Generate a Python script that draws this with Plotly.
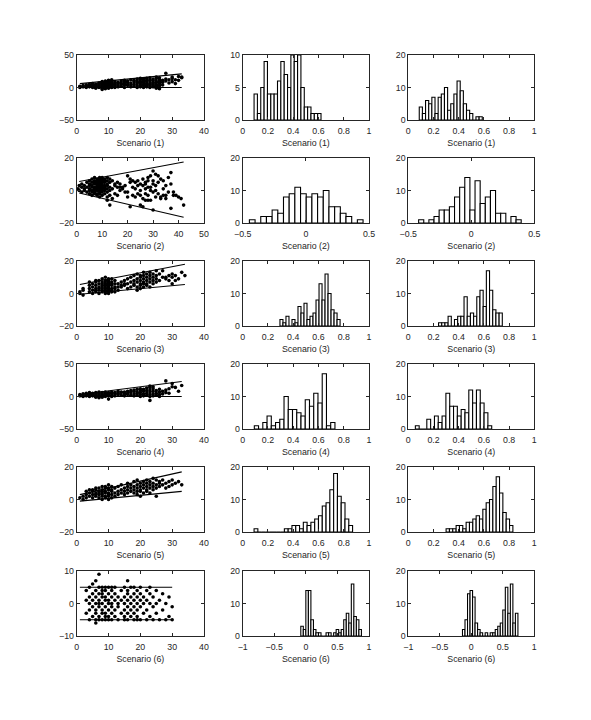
import plotly.graph_objects as go

# ---------------- scatter data (x -> list of y) ----------------
S1 = {1: [0, 1, 2], 2: [1, 3], 3: [0, 2, 4], 4: [1, 2, 3, 5], 5: [0, 2, 3, 4, 6],
      6: [-1, 1, 2, 4, 5], 7: [0, 1, 3, 4, 6, 7], 8: [-3, -1, 0, 2, 3, 5, 6, 8, 9],
      9: [-2, 0, 1, 3, 4, 6, 7, 9, 10], 10: [-1, 0, 2, 3, 5, 6, 8, 10, 11],
      11: [0, 1, 3, 4, 6, 7, 9, 12], 12: [0, 2, 4, 5, 7, 9], 13: [1, 3, 6, 8],
      14: [2, 5, 7, 10], 15: [0, 4, 6, 9, 11], 16: [3, 5, 8, 10], 17: [1, 4, 7, 12],
      18: [2, 5, 9, 11], 19: [0, 3, 6, 8, 10, 13], 20: [1, 2, 4, 7, 9, 12, 14],
      21: [0, 3, 5, 8, 10, 13], 22: [1, 2, 4, 6, 9, 11, 14], 23: [0, 3, 5, 7, 10, 12, 15],
      24: [1, 2, 4, 6, 8, 11, 13], 25: [-1, 2, 3, 5, 8, 10, 14, 16],
      26: [-2, 0, 3, 6, 9, 12, 15], 27: [4, 8, 11], 28: [10, 13, 22], 29: [7, 12],
      30: [9, 14, 16], 31: [6, 12], 32: [11, 17], 33: [15, 16]}
S2 = {0.5: [1], 1: [0, 3], 2: [-1, 2, 4], 3: [0, 1, 3], 4: [-1, 2, 5],
      5: [-2, 0, 1, 3, 4, 6], 6: [-3, -1, 0, 2, 3, 5, 7], 7: [-2, -1, 0, 1, 2, 4, 5, 6, 8],
      8: [-3, -2, 0, 1, 2, 3, 4, 5, 6, 7], 9: [-4, -2, -1, 0, 1, 2, 3, 4, 5, 6, 7, 8],
      10: [-3, -1, 0, 1, 2, 3, 4, 5, 6, 7, 8], 11: [-2, 0, 1, 2, 3, 5, 6, 7],
      12: [-6, -4, -1, 1, 3, 4, 6, 8], 13: [-9, -3, 0, 2, 5, 7], 14: [-5, 1, 6],
      15: [-2, 4, 3], 16: [-3, 5, 2], 17: [0, 2, 4], 18: [2, 1], 19: [3, -1],
      20: [-4, 9, -1], 21: [-10, 5, 7], 22: [-3, 2, 6], 23: [-4, 5, 1], 24: [-2, 6, 3],
      25: [-9, 0, 4, -3], 26: [-10, 3, -5, 7], 27: [1, 5, -2, -6, 4], 28: [8, -3, 2, 6, -6],
      29: [-6, 2, 0, 9], 30: [-12, 4, 12, -1, 6], 31: [10, 0, -4, 3], 32: [9, -2, 5],
      33: [7, -4, -5], 34: [6, -3, 1], 35: [3, -3, -5], 36: [-1, 8], 37: [11, -11, 4],
      38: [-1, -3], 39: [-3], 40: [-4], 41: [-5], 42: [-9]}
S3 = {1: [0, 1], 2: [-1, 2, 3], 4: [1, 3, 5, 7], 5: [0, 2, 4, 6], 6: [1, 2, 3, 5, 7, 8],
      7: [0, 2, 3, 4, 6, 8], 8: [1, 2, 3, 4, 5, 6, 7, 9], 9: [0, 1, 2, 3, 4, 5, 6, 7, 8, 10],
      10: [0, 1, 2, 3, 4, 5, 6, 7, 8, 9], 11: [1, 2, 3, 5, 6, 7, 9], 12: [1, 3, 4, 6, 8],
      13: [2, 4, 6], 14: [4, 5, 7], 15: [5, 6, 8], 16: [3, 6, 9], 17: [4, 7, 10],
      18: [5, 6, 8, 11], 19: [2, 4, 7, 9, 12], 20: [3, 5, 6, 8, 10, 11],
      21: [4, 6, 7, 9, 11, 13], 22: [5, 6, 8, 10, 12], 23: [4, 7, 9, 11, 13],
      24: [6, 8, 10, 12], 25: [7, 9, 11, 14], 26: [8, 12], 27: [10, 14], 28: [9, 10],
      29: [8, 11], 30: [10, 12, 6], 31: [11, 8], 32: [9], 33: [13], 34: [11]}
S4 = {1: [1, 3], 2: [0, 2, 4], 3: [1, 3, 5], 4: [0, 2, 4, 6], 5: [1, 3, 5],
      6: [-1, 0, 2, 4, 6], 7: [-2, 0, 1, 3, 5, 7], 8: [-1, 1, 2, 4, 6], 9: [0, 2, 3, 5, 7],
      10: [-4, 1, 3, 4, 6], 11: [0, 2, 5, 7], 12: [1, 4, 6], 13: [3, 5, 8], 14: [2, 6, 7],
      15: [1, 4, 7], 16: [3, 5, 8], 17: [2, 6, 9], 18: [1, 4, 8, 10], 19: [2, 5, 7, 11],
      20: [0, 3, 6, 9, 12], 21: [1, 4, 8, 11], 22: [2, 5, 9, 13], 23: [-6, 0, 3, 7, 10, 14, 16],
      24: [1, 4, 8, 12, 15], 25: [2, 5, 9], 26: [0, 3, 7, 11], 27: [4, 8], 28: [6, 10, 24],
      29: [12, 5], 30: [15, 20], 31: [14], 32: [8], 33: [17]}
S5 = {1: [1], 2: [2, 0], 3: [1, 3, 5], 4: [2, 4, 6], 5: [1, 3, 5, 6], 6: [2, 3, 4, 6, 7],
      7: [1, 3, 4, 5, 7], 8: [0, 2, 3, 4, 5, 6, 8], 9: [1, 2, 4, 5, 7, 8],
      10: [0, 2, 3, 4, 6, 7, 9], 11: [1, 3, 5, 6, 8], 12: [2, 4, 7], 13: [3, 5, 8],
      14: [4, 6, 9], 15: [3, 5, 7], 16: [4, 6, 8, 10], 17: [5, 7, 9], 18: [4, 6, 8, 11],
      19: [3, 5, 7, 9, 12], 20: [2, 5, 6, 8, 10], 21: [4, 7, 9, 11], 22: [5, 6, 8, 10, 12],
      23: [4, 7, 9, 11], 24: [6, 8, 10, 13], 25: [2, 7, 9, 12], 26: [8, 10, 11],
      27: [9, 12], 28: [7, 10], 29: [11, 8], 30: [12, 9], 31: [10], 32: [11], 33: [9]}
S6 = {3: [-3, 1, 4], 4: [-5, -2, 0, 2, 5], 5: [-4, -1, 1, 3, 6],
      6: [-6, -5, -3, -2, 0, 2, 4, 7], 7: [-5, -4, -1, 0, 1, 3, 5, 9],
      8: [-5, -3, -2, 0, 2, 3, 4, 5], 9: [-5, -4, -3, -1, 1, 2, 4, 5],
      10: [-5, -4, -2, 0, 1, 3, 5], 11: [-5, -3, -1, 0, 2, 4, 5], 12: [-4, -2, 1, 3, 5],
      13: [-5, -1, 0, 2], 14: [-3, 1, 4], 15: [-5, -4, -2, 0, 2, 5],
      16: [-5, -3, -1, 1, 3, 4, 7], 17: [-4, -2, 0, 2, 5], 18: [-5, -3, -1, 1, 3, 5],
      19: [-5, -4, -2, 0, 2, 4], 20: [-5, -1, 1, 3, 5], 21: [-3, 0, 2], 22: [-5, -2, 1, 4],
      23: [-4, 0, 3, 5], 24: [-5, -1, 2], 25: [-3, 0, 4], 26: [-5, 1], 27: [-2, 3],
      28: [-5, 0], 29: [-4, 2], 30: [-5, -1]}

# bound lines: (x_start, x_end), upper (y_start, y_end), lower (y_start, y_end)
LINE_X = [(1, 33), (1, 42), (1, 34), (1, 33), (1, 33), (1, 30)]
UPPER_Y = [(6, 21), (5.5, 17.5), (5.5, 18), (3, 23), (3, 17), (5, 5)]
LOWER_Y = [(0, 0), (-1.5, -16.5), (-0.5, 5.5), (0, 0), (-1, 5), (-5, -5)]

# ---------------- histogram data: first bin edge, bin width, counts ----------------
H2_START = [0.09, -0.447, 0.295, 0.092, 0.09, -0.08]
H2_WIDTH = [0.0265, 0.045, 0.0238, 0.0336, 0.03, 0.04]
H2_COUNTS = [
    [4, 1, 5, 9, 4, 4, 4, 6, 9, 7, 5, 10, 9, 10, 5, 2, 2, 1, 1, 1],
    [1, 0, 2, 2, 4, 3, 8, 9, 11, 9, 8, 9, 8, 10, 5, 5, 3, 2, 0, 1],
    [2, 1, 3, 0, 2, 1, 6, 4, 7, 2, 3, 4, 8, 13, 8, 16, 10, 5, 4, 2],
    [1, 0, 2, 4, 1, 2, 3, 10, 6, 6, 5, 4, 9, 7, 11, 8, 17, 1, 2],
    [1, 0, 0, 0, 0, 0, 0, 0, 1, 1, 2, 2, 1, 3, 2, 3, 4, 5, 8, 9, 13, 18, 11, 9, 4, 2],
    [3, 2, 14, 14, 5, 2, 1, 1, 0, 0, 1, 1, 0, 1, 2, 1, 2, 5, 7, 4, 16, 6, 5, 2],
]
H3_START = [0.087, -0.418, 0.24, 0.056, 0.30, -0.14]
H3_WIDTH = [0.025, 0.0407, 0.0253, 0.0303, 0.0265, 0.04]
H3_COUNTS = [
    [4, 2, 6, 5, 7, 2, 7, 8, 10, 3, 5, 8, 12, 9, 5, 3, 2, 0, 1, 1],
    [1, 0, 1, 2, 4, 4, 5, 8, 11, 14, 4, 13, 6, 8, 10, 3, 3, 0, 2, 1],
    [1, 1, 1, 3, 0, 2, 3, 3, 9, 3, 4, 3, 9, 11, 6, 17, 11, 5, 4, 4],
    [1, 0, 0, 3, 0, 4, 2, 4, 11, 7, 7, 4, 6, 5, 12, 8, 12, 8, 5, 1],
    [1, 1, 1, 2, 2, 1, 3, 3, 4, 5, 4, 7, 9, 10, 14, 17, 12, 6, 4, 2],
    [2, 5, 13, 14, 12, 4, 2, 1, 0, 1, 0, 1, 1, 2, 3, 4, 8, 15, 7, 16, 4, 7],
]

LABELS = ["Scenario (1)", "Scenario (2)", "Scenario (3)",
          "Scenario (4)", "Scenario (5)", "Scenario (6)"]

# axis ranges and ticks
SC_XRANGE = [[0, 40], [0, 50], [0, 40], [0, 40], [0, 40], [0, 40]]
SC_YRANGE = [[-50, 50], [-20, 20], [-20, 20], [-50, 50], [-20, 20], [-10, 10]]
SC_YDTICK = [50, 20, 20, 50, 20, 10]
H_XRANGE = [[0, 1], [-0.5, 0.5], [0, 1], [0, 1], [0, 1], [-1, 1]]
H_XDTICK = [0.2, 0.5, 0.2, 0.2, 0.2, 0.5]
H2_YRANGE = [[0, 10], [0, 20], [0, 20], [0, 20], [0, 20], [0, 20]]
H2_YDTICK = [5, 10, 10, 10, 10, 10]
H3_YRANGE = [[0, 20]] * 6
H3_YDTICK = [10] * 6

# ---------------- layout geometry (pixels, page body has an 8px margin) ----------------
W, H = 575, 704
COLS = [(68.7, 196), (234.7, 361), (400.3, 526.3)]
ROW_TOPS = [47, 150, 253, 356, 459, 563]
ROW_H = 65
AX_COLOR = "#262626"
FONT = dict(family="Liberation Sans, Arial, sans-serif", size=8.8, color=AX_COLOR)

fig = go.Figure()
layout = {}


def add_axes(idx, col, row, xr, xdt, yr, ydt, title):
    x0, x1 = COLS[col]
    top = ROW_TOPS[row]
    suffix = "" if idx == 1 else str(idx)
    common = dict(showline=True, linecolor=AX_COLOR, linewidth=1, mirror="allticks",
                  ticks="inside", ticklen=3, tickcolor=AX_COLOR, tickwidth=1,
                  showgrid=False, zeroline=False, tickfont=FONT, automargin=False)
    layout["xaxis" + suffix] = dict(
        domain=[x0 / W, x1 / W], anchor="y" + suffix, range=xr, dtick=xdt, tick0=0,
        ticklabelstandoff=2,
        title=dict(text=title, font=FONT, standoff=5), **common)
    layout["yaxis" + suffix] = dict(
        domain=[1 - (top + ROW_H) / H, 1 - top / H], anchor="x" + suffix, range=yr,
        dtick=ydt, tick0=0, **common)
    return "x" + suffix, "y" + suffix


idx = 0
for r in range(6):
    # scatter column
    idx += 1
    xa, ya = add_axes(idx, 0, r, SC_XRANGE[r], 10, SC_YRANGE[r], SC_YDTICK[r], LABELS[r])
    data = [S1, S2, S3, S4, S5, S6][r]
    xs, ys = [], []
    for k, vals in data.items():
        for v in vals:
            xs.append(k)
            ys.append(v)
    for yy in (UPPER_Y[r], LOWER_Y[r]):
        fig.add_trace(go.Scatter(x=list(LINE_X[r]), y=list(yy), mode="lines",
                                 line=dict(color="black", width=1.1),
                                 xaxis=xa, yaxis=ya, showlegend=False))
    fig.add_trace(go.Scatter(x=xs, y=ys, mode="markers",
                             marker=dict(color="black", size=3.6),
                             xaxis=xa, yaxis=ya, showlegend=False, cliponaxis=False))
    # histogram columns
    for c, (start, width, counts, yr, ydt) in enumerate([
            (H2_START[r], H2_WIDTH[r], H2_COUNTS[r], H2_YRANGE[r], H2_YDTICK[r]),
            (H3_START[r], H3_WIDTH[r], H3_COUNTS[r], H3_YRANGE[r], H3_YDTICK[r])]):
        idx += 1
        xa, ya = add_axes(idx, c + 1, r, H_XRANGE[r], H_XDTICK[r], yr, ydt, LABELS[r])
        centers = [start + (i + 0.5) * width for i in range(len(counts))]
        fig.add_trace(go.Bar(x=centers, y=counts, width=width,
                             marker=dict(color="white", line=dict(color="black", width=1.1)),
                             xaxis=xa, yaxis=ya, showlegend=False))

fig.update_layout(template="none", width=W, height=H, margin=dict(l=0, r=0, t=0, b=0),
                  autosize=False, paper_bgcolor="white", plot_bgcolor="white",
                  showlegend=False, font=FONT, **layout)
fig.write_html("out.html")
